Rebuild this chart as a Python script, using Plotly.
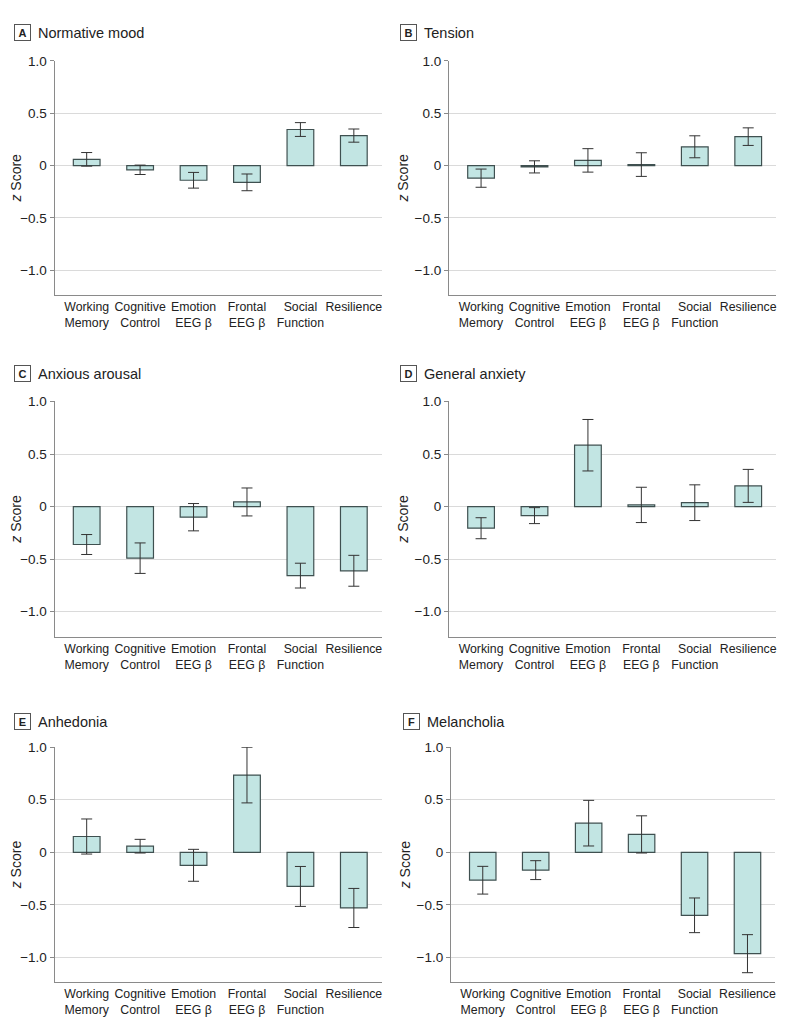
import plotly.graph_objects as go

categories = ["Working<br>Memory", "Cognitive<br>Control", "Emotion<br>EEG β",
              "Frontal<br>EEG β", "Social<br>Function", "Resilience"]

panel_letters = ["A", "B", "C", "D", "E", "F"]
panel_titles = ["Normative mood", "Tension", "Anxious arousal",
                "General anxiety", "Anhedonia", "Melancholia"]

normative_mood = [0.06, -0.04, -0.14, -0.16, 0.345, 0.287]
normative_mood_err = [0.065, 0.045, 0.075, 0.08, 0.066, 0.063]

tension = [-0.12, -0.012, 0.05, 0.01, 0.18, 0.277]
tension_err = [0.087, 0.058, 0.112, 0.113, 0.105, 0.084]

anxious_arousal = [-0.36, -0.49, -0.10, 0.045, -0.656, -0.61]
anxious_arousal_err = [0.095, 0.145, 0.13, 0.133, 0.118, 0.147]

general_anxiety = [-0.205, -0.085, 0.585, 0.017, 0.038, 0.198]
general_anxiety_err = [0.1, 0.076, 0.245, 0.168, 0.17, 0.157]

anhedonia = [0.15, 0.058, -0.124, 0.735, -0.325, -0.53]
anhedonia_err = [0.167, 0.065, 0.152, 0.265, 0.19, 0.186]

melancholia = [-0.266, -0.17, 0.277, 0.17, -0.6, -0.965]
melancholia_err = [0.132, 0.09, 0.217, 0.177, 0.165, 0.181]

series = [normative_mood, tension, anxious_arousal, general_anxiety, anhedonia, melancholia]
errors = [normative_mood_err, tension_err, anxious_arousal_err, general_anxiety_err,
          anhedonia_err, melancholia_err]

ytick_vals = [1.0, 0.5, 0, -0.5, -1.0]
ytick_text = ["1.0", "0.5", "0", "−0.5", "−1.0"]

# page has an 8px body margin; the figure is sized so the page fits the window
OFF = 8
W, H = 785 - 2 * OFF, 1026 - 2 * OFF
# reference pixel boxes: (left, right, top, bottom)
boxes = [
    (49, 379, 54, 290),
    (447, 777, 54, 290),
    (49, 379, 397, 634),
    (447, 777, 397, 634),
    (49, 379, 745, 982),
    (449, 776, 745, 982),
]
title_y = [26, 26, 369.5, 369.5, 719.5, 719.5]
title_x = [8, 398, 8, 398, 8, 401]


def px(x):
    return (x - OFF) / W


def py(y):
    return 1 - (y - OFF) / H


BAR_FILL = "#c2e5e3"
BAR_LINE = "#3f5050"
GRID = "#dadada"
AXIS = "#8a8a8a"
FONT = "Liberation Sans"

fig = go.Figure()
layout = dict(
    width=W, height=H, margin=dict(l=0, r=0, t=0, b=0),
    paper_bgcolor="white", plot_bgcolor="white", showlegend=False,
    font=dict(family=FONT, size=12, color="#222"),
    annotations=[],
)

x_idx = list(range(len(categories)))
for i in range(6):
    l, r, t, b = boxes[i]
    n = "" if i == 0 else str(i + 1)
    fig.add_trace(go.Bar(
        x=x_idx, y=series[i], width=0.5,
        marker=dict(color=BAR_FILL, line=dict(color=BAR_LINE, width=1.2)),
        error_y=dict(type="data", array=errors[i], visible=True,
                     color="#333333", thickness=1, width=5.5),
        xaxis="x" + n, yaxis="y" + n,
    ))
    layout["xaxis" + n] = dict(
        domain=[px(l), px(r)], anchor="y" + n,
        range=[-0.6, 5.52], tickvals=x_idx, ticktext=categories, tickangle=0,
        ticklabeloverflow="allow",
        showgrid=False, zeroline=False, showline=True, linecolor=AXIS,
        linewidth=1.2, ticks="", tickfont=dict(size=12.3, family=FONT, color="#222"),
        fixedrange=True,
    )
    layout["yaxis" + n] = dict(
        domain=[py(b), py(t)], anchor="x" + n,
        range=[-1.237, 1.003], tickvals=ytick_vals, ticktext=ytick_text,
        showgrid=True, gridcolor=GRID, gridwidth=1,
        zeroline=True, zerolinecolor=GRID, zerolinewidth=1,
        showline=True, linecolor=AXIS, linewidth=1.2,
        ticks="outside", ticklen=4, tickcolor=AXIS, tickwidth=1,
        tickfont=dict(size=13.5, family=FONT, color="#222"),
        title=dict(text="<i>z</i> Score", font=dict(size=14, family=FONT, color="#222"),
                   standoff=2),
        fixedrange=True,
    )
    layout["annotations"].append(dict(
        x=px(title_x[i]), y=py(title_y[i]), xref="paper", yref="paper",
        xanchor="left", yanchor="middle", showarrow=False,
        text="<b>" + panel_letters[i] + "</b>",
        font=dict(size=11, family=FONT, color="#222"),
        bordercolor="#555", borderwidth=1, borderpad=1.5, width=12, height=12,
    ))
    layout["annotations"].append(dict(
        x=px(title_x[i] + 22), y=py(title_y[i]), xref="paper", yref="paper",
        xanchor="left", yanchor="middle", showarrow=False,
        text=panel_titles[i],
        font=dict(size=14.5, family=FONT, color="#222"),
    ))

fig.update_layout(**layout)
fig.write_html("out.html")
